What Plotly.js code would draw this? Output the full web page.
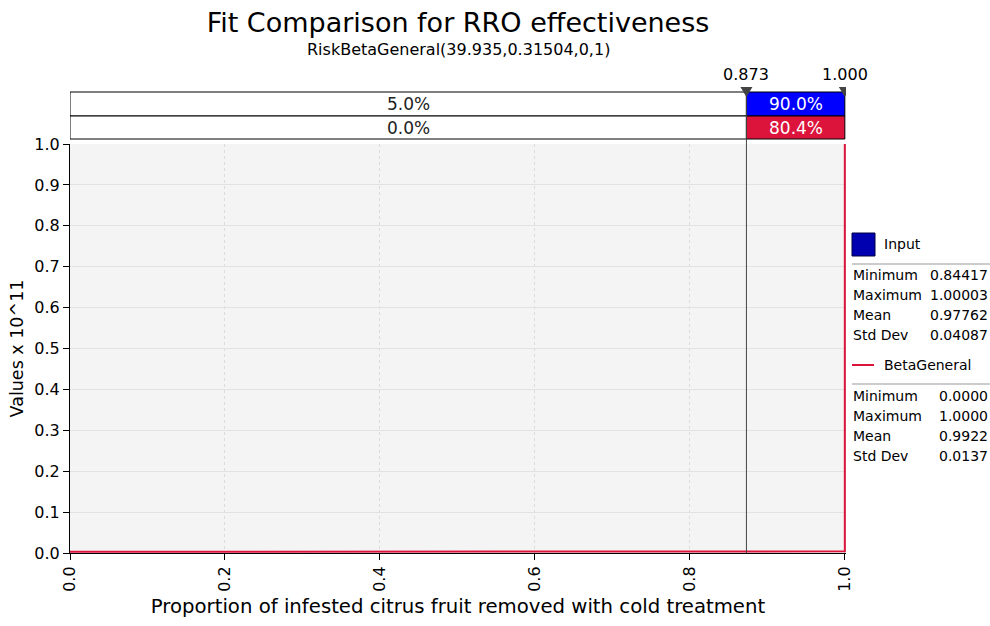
<!DOCTYPE html>
<html><head><meta charset="utf-8">
<script src="https://cdn.plot.ly/plotly-3.0.1.min.js"></script>
<style>body{margin:0;background:#fff}#c{width:990px;height:626px}</style>
</head><body><div id="c"></div>
<script>
// Fitted BetaGeneral curve (values shown in units of 10^11)
const betaX = [0, 0.1, 0.2, 0.3, 0.4, 0.5, 0.6, 0.7, 0.8, 0.873, 0.9, 0.95, 0.99, 0.999, 1.0, 1.0];
const betaY = [0.003, 0.003, 0.003, 0.003, 0.003, 0.003, 0.003, 0.003, 0.003, 0.003, 0.003, 0.003, 0.003, 0.003, 0.004, 1.2];
// Input histogram (density, units of 10^11 -> negligible)
const histX = [0.852, 0.867, 0.883, 0.898, 0.914, 0.930, 0.945, 0.961, 0.977, 0.992];
const histY = [0.2e-10, 0.4e-10, 0.6e-10, 0.9e-10, 1.3e-10, 1.9e-10, 2.8e-10, 4.2e-10, 7.0e-10, 14e-10];
// Delimiters and probabilities
const delims = [0.873, 1.000];
const delimLabels = ["0.873", "1.000"];
const inputPct = ["5.0%", "90.0%"];
const fitPct = ["0.0%", "80.4%"];
const xTicks = [0.0, 0.2, 0.4, 0.6, 0.8, 1.0];
const yTicks = [0.0, 0.1, 0.2, 0.3, 0.4, 0.5, 0.6, 0.7, 0.8, 0.9, 1.0];
const inputStats = [["Minimum", "0.84417"], ["Maximum", "1.00003"], ["Mean", "0.97762"], ["Std Dev", "0.04087"]];
const fitStats = [["Minimum", "0.0000"], ["Maximum", "1.0000"], ["Mean", "0.9922"], ["Std Dev", "0.0137"]];

const FONT = "DejaVu Sans";
const L = 70, R = 846, T = 144, B = 553;
const px = x => (x - L) / (R - L);
const py = y => (B - y) / (B - T);

const traces = [
  {type: 'bar', x: histX, y: histY, width: 0.0155, marker: {color: '#0000c8', line: {width: 0}}, hoverinfo: 'skip', showlegend: false},
  {type: 'scatter', mode: 'lines', x: betaX, y: betaY, line: {color: '#dc143c', width: 2}, hoverinfo: 'skip', showlegend: false}
];

const shapes = [];
const annotations = [];
function txt(x, y, text, size, color, xa, xref) {
  annotations.push({xref: xref || 'paper', yref: 'paper', x: x, y: y, xanchor: xa || 'center', yanchor: 'middle', text: text,
    showarrow: false, font: {family: FONT, size: size, color: color || '#000'}});
}
// top delimiter bars
const rows = [{y0: py(116), y1: py(92), pct: inputPct, col: '#0000ff'}, {y0: py(139), y1: py(116), pct: fitPct, col: '#dc143c'}];
rows.forEach(r => {
  shapes.push({type: 'rect', xref: 'x', yref: 'paper', x0: 0, x1: delims[0], y0: r.y0, y1: r.y1, fillcolor: '#ffffff', line: {color: '#000', width: 1}});
  shapes.push({type: 'rect', xref: 'x', yref: 'paper', x0: delims[0], x1: delims[1], y0: r.y0, y1: r.y1, fillcolor: r.col, line: {color: '#000', width: 1}});
  txt(delims[0] / 2, (r.y0 + r.y1) / 2, r.pct[0], 17, '#222', 'center', 'x');
  txt((delims[0] + delims[1]) / 2, (r.y0 + r.y1) / 2, r.pct[1], 17, '#fff', 'center', 'x');
});
// delimiter line
shapes.push({type: 'line', xref: 'x', yref: 'paper', x0: delims[0], x1: delims[0], y0: 0, y1: py(92), line: {color: '#444', width: 1}});
// triangles and labels
delims.forEach((d, i) => {
  shapes.push({type: 'path', xref: 'x', yref: 'paper', xsizemode: 'pixel', ysizemode: 'pixel', xanchor: d, yanchor: py(92),
    path: 'M -6 5 L 6 5 L 0 -5 Z', fillcolor: '#444', line: {width: 0}});
  txt(d, py(74), delimLabels[i], 16, '#000', 'center', 'x');
});
// legend
shapes.push({type: 'rect', xref: 'paper', yref: 'paper', x0: px(852), x1: px(875), y0: py(256), y1: py(233), fillcolor: '#0000b0', line: {color: '#000040', width: 1}});
shapes.push({type: 'line', xref: 'paper', yref: 'paper', x0: px(852), x1: px(990), y0: py(264), y1: py(264), line: {color: '#999', width: 1}});
shapes.push({type: 'line', xref: 'paper', yref: 'paper', x0: px(852), x1: px(874), y0: py(365), y1: py(365), line: {color: '#dc143c', width: 2}});
shapes.push({type: 'line', xref: 'paper', yref: 'paper', x0: px(852), x1: px(990), y0: py(384), y1: py(384), line: {color: '#999', width: 1}});
txt(px(882), py(244), 'Input', 14, '#000', 'left');
txt(px(882), py(365), 'BetaGeneral', 14, '#000', 'left');
[[inputStats, 275], [fitStats, 396]].forEach(([st, y0]) => {
  st.forEach((s, i) => {
    txt(px(851), py(y0 + 20 * i), s[0], 14, '#000', 'left');
    txt(px(990), py(y0 + 20 * i), s[1], 14, '#000', 'right');
  });
});
txt(0.5, py(50), 'RiskBetaGeneral(39.935,0.31504,0,1)', 16, '#000', 'center');

const layout = {
  width: 990, height: 626,
  margin: {l: L, r: 990 - R, t: T, b: 626 - B},
  paper_bgcolor: '#fff', plot_bgcolor: '#f4f4f4',
  title: {text: 'Fit Comparison for RRO effectiveness', x: 0.5, xref: 'paper', xanchor: 'center', y: 1 - 23 / 626, yanchor: 'middle', font: {family: FONT, size: 27, color: '#000'}},
  font: {family: FONT, color: '#000'},
  bargap: 0,
  xaxis: {range: [0, 1.0015], tickvals: xTicks, ticktext: xTicks.map(v => v.toFixed(1)), tickangle: -90, ticks: 'outside', ticklen: 6, tickcolor: '#000',
    showline: true, linecolor: '#000', linewidth: 1, zeroline: false, showgrid: true, gridcolor: '#dcdcdc', griddash: 'dot',
    tickfont: {family: FONT, size: 16}, title: {text: 'Proportion of infested citrus fruit removed with cold treatment', font: {family: FONT, size: 19.7}, standoff: 8}},
  yaxis: {range: [0, 1], tickvals: yTicks, ticktext: yTicks.map(v => v.toFixed(1)), ticks: 'outside', ticklen: 6, tickcolor: '#000',
    showline: true, linecolor: '#000', linewidth: 1, zeroline: false, showgrid: true, gridcolor: '#e2e2e2',
    tickfont: {family: FONT, size: 16}, title: {text: 'Values x 10^11', font: {family: FONT, size: 17.5}, standoff: 6}},
  shapes: shapes, annotations: annotations, showlegend: false
};
Plotly.newPlot('c', traces, layout, {staticPlot: true});
</script></body></html>
